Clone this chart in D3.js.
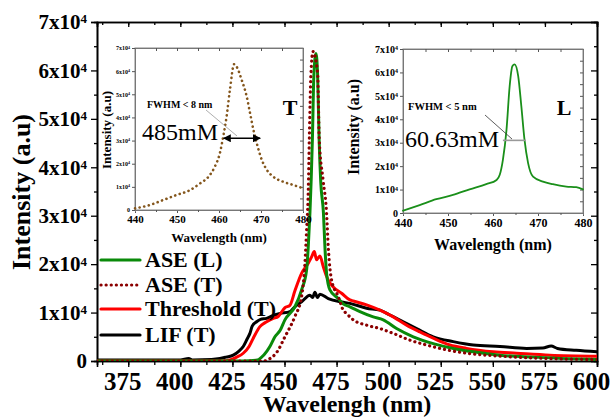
<!DOCTYPE html>
<html>
<head>
<meta charset="utf-8">
<script src="https://cdn.jsdelivr.net/npm/d3@7"></script>
<style>
  body { margin: 0; background: #fff; }
  svg, svg text { font-family: "Liberation Serif", "DejaVu Serif", serif; }
</style>
</head>
<body>
<div id="chart"></div>
<script>
// main spectra, wavelength (nm) vs intensity (x10^4)
var aseLWl  = [360, 400, 430, 437, 440, 443, 445.4, 448, 450.2, 455, 458.2, 460.6, 461.4, 462.2, 462.8, 463.4, 464.1, 465.1, 465.9, 466.6, 467.4, 468.7, 469.4, 470.2, 471.8, 475.8, 478.2, 481.4, 486.2, 492.6, 497.4, 503.8, 511.8, 521.4, 531, 540.6, 553.4, 569.4, 600];
var aseLVal = [0, 0, 0, 0.02, 0.12, 0.3, 0.5, 0.64, 0.85, 1.12, 1.47, 1.88, 2.36, 3.05, 3.74, 4.6, 5.9, 6.35, 5.9, 4.6, 3.7, 3.05, 2.36, 1.81, 1.47, 1.29, 1.18, 1.12, 1.02, 0.91, 0.85, 0.67, 0.5, 0.36, 0.26, 0.19, 0.12, 0.08, 0.03];

var aseTWl  = [360, 400, 440, 443, 446.3, 450.2, 455, 458.2, 459.8, 460.6, 461.4, 461.9, 462.7, 463.7, 465.9, 466.7, 468.5, 470.2, 471, 472.6, 475.8, 478.2, 479.8, 483, 489.4, 495.8, 502.2, 510.2, 518.2, 527.8, 537.4, 553.4, 577.4, 600];
var aseTVal = [0, 0, 0, 0.05, 0.18, 0.5, 0.92, 1.33, 2.02, 2.7, 3.5, 4.56, 5.94, 6.39, 5.94, 4.56, 3.74, 3.05, 2.36, 1.67, 1.33, 1.05, 0.98, 0.85, 0.74, 0.67, 0.57, 0.43, 0.33, 0.23, 0.16, 0.1, 0.05, 0.03];

var thrWl  = [360, 400, 420, 423.8, 427, 430.2, 433, 435, 438.2, 441, 444.6, 447, 450.2, 452.6, 455, 458.2, 461.4, 463, 464.3, 465.4, 467, 468.6, 470.2, 471, 473.4, 477.4, 481.4, 483, 489.4, 495.8, 502.2, 508.6, 515, 521.4, 529.4, 537.4, 550.2, 561.4, 577.4, 600];
var thrVal = [0, 0, 0, 0.02, 0.08, 0.16, 0.3, 0.47, 0.71, 0.8, 0.88, 0.92, 1.1, 1.15, 1.45, 1.81, 2.02, 2.15, 2.26, 2.09, 2.17, 1.95, 1.75, 1.67, 1.53, 1.4, 1.26, 1.24, 1.16, 1.05, 0.91, 0.74, 0.6, 0.47, 0.33, 0.26, 0.19, 0.16, 0.12, 0.1];

var lifWl  = [360, 380, 400, 404, 406, 415, 419, 422, 425.4, 428, 430.2, 432, 433.4, 434.5, 436.6, 438.5, 441.4, 444, 447.8, 452.6, 455, 458.2, 462.2, 463.5, 464.6, 465.8, 467, 471, 477.4, 481.4, 489.4, 495.8, 500.6, 507, 513.4, 521.4, 531, 540.6, 553.4, 566.2, 574, 578, 581, 590, 600];
var lifVal = [0.02, 0.02, 0.02, 0.05, 0.02, 0.03, 0.05, 0.08, 0.12, 0.2, 0.3, 0.45, 0.57, 0.72, 0.81, 0.86, 0.88, 0.93, 0.98, 1.02, 1.12, 1.22, 1.36, 1.31, 1.42, 1.31, 1.38, 1.29, 1.22, 1.19, 1.09, 1.05, 0.95, 0.81, 0.67, 0.5, 0.4, 0.33, 0.3, 0.26, 0.27, 0.31, 0.26, 0.22, 0.19];

// insets
var insTWl  = [440, 443.6, 446.7, 449.9, 453.1, 455.5, 457.5, 459, 460.2, 461, 461.8, 462.6, 463.6, 464.2, 465.4, 466.6, 467.4, 468.2, 469, 470.2, 471.4, 472.9, 475.3, 477.7, 480];
var insTVal = [0.07, 0.22, 0.43, 0.65, 0.86, 1.15, 1.44, 1.87, 2.45, 3.17, 4.03, 5.19, 6.3, 6.19, 5.62, 4.9, 4.18, 3.46, 2.88, 2.16, 1.73, 1.44, 1.22, 1.08, 0.94];

var insLWl  = [440, 443.7, 447.4, 451.1, 454.8, 458.5, 460.8, 461.5, 462.2, 463, 463.7, 464.3, 464.8, 465.6, 466.3, 467, 467.8, 468.9, 471.1, 473.3, 476.3, 478.5, 480];
var insLVal = [0.1, 0.34, 0.59, 0.77, 1.01, 1.23, 1.41, 1.63, 2.27, 3.55, 5.41, 6.26, 6.34, 5.84, 4.55, 3.13, 2.13, 1.55, 1.34, 1.23, 1.13, 1.1, 1.01];

var xTicks = [375, 400, 425, 450, 475, 500, 525, 550, 575, 600];
var yTicks = [0, 1, 2, 3, 4, 5, 6, 7];
var insXTicks = [440, 450, 460, 470, 480];

var legendNames = ["ASE (L)", "ASE (T)", "Threshold (T)", "LIF (T)"];

var W = 613, H = 417;
var FONT = "'Liberation Serif', 'DejaVu Serif', serif";
var svg = d3.select("#chart").append("svg").attr("width", W).attr("height", H);

var x = d3.scaleLinear().domain([360, 600]).range([97, 597]);
var y = d3.scaleLinear().domain([0, 7]).range([361, 22]);

function sciLabel(sel, v, supSize) {
    sel.text(null);
    if (v === 0) { sel.text("0"); return; }
    sel.append("tspan").text(v + "x10");
    sel.append("tspan").attr("dy", "-0.45em").style("font-size", supSize).text("4");
}

function zip(a, b) { return a.map(function (d, i) { return [d, b[i]]; }); }

// ---- main axes
var g = svg.append("g");
var minorX = d3.range(362.5, 600, 12.5);
var minorY = d3.range(0.5, 7, 1);

g.append("g").attr("transform", "translate(0,361)")
    .call(d3.axisBottom(x).tickValues(minorX).tickSize(4).tickFormat(""));
var xa = g.append("g").attr("transform", "translate(0,361)")
    .call(d3.axisBottom(x).tickValues(xTicks).tickSize(6).tickPadding(5));
xa.selectAll("text").attr("dx", -6).style("font-size", "25px").style("font-weight", "bold");

g.append("g").attr("transform", "translate(0,22)")
    .call(d3.axisTop(x).tickValues(xTicks).tickSize(-5).tickFormat(""));
g.append("g").attr("transform", "translate(0,22)")
    .call(d3.axisTop(x).tickValues(minorX).tickSize(-3).tickFormat(""));

g.append("g").attr("transform", "translate(97,0)")
    .call(d3.axisLeft(y).tickValues(minorY).tickSize(3).tickFormat(""));
var ya = g.append("g").attr("transform", "translate(97,0)")
    .call(d3.axisLeft(y).tickValues(yTicks).tickSize(6).tickPadding(4));
ya.selectAll("text").style("font-size", "21px").style("font-weight", "bold")
    .each(function (d) { sciLabel(d3.select(this), d, "13px"); });

g.append("g").attr("transform", "translate(597,0)")
    .call(d3.axisRight(y).tickValues(yTicks).tickSize(-6).tickFormat(""));
g.append("g").attr("transform", "translate(597,0)")
    .call(d3.axisRight(y).tickValues(minorY).tickSize(-3).tickFormat(""));

g.selectAll(".domain").attr("stroke-width", 1.6);
g.selectAll(".tick line").attr("stroke-width", 1.3);
g.selectAll("g").attr("font-family", null);
g.selectAll("text").style("font-family", FONT);

svg.append("text").attr("x", 347).attr("y", 412).attr("text-anchor", "middle")
    .style("font-size", "24px").style("font-weight", "bold").text("Wavelengh (nm)");
svg.append("text").attr("transform", "translate(30,192) rotate(-90)").attr("text-anchor", "middle")
    .style("font-size", "26px").style("font-weight", "bold").text("Intensity (a.u)");

// ---- main curves
svg.append("clipPath").attr("id", "clipMain").append("rect")
    .attr("x", 97).attr("y", 22).attr("width", 500).attr("height", 339);

var line = d3.line().x(function (d) { return x(d[0]); }).y(function (d) { return y(d[1]); })
    .curve(d3.curveMonotoneX);

var series = [
    { data: zip(lifWl, lifVal), color: "#000000", dash: null },
    { data: zip(thrWl, thrVal), color: "#ff0000", dash: null },
    { data: zip(aseLWl, aseLVal), color: "#0a8a0a", dash: null },
    { data: zip(aseTWl, aseTVal), color: "#8b0000", dash: "0.1,5" }
];
var lines = svg.append("g").attr("clip-path", "url(#clipMain)");
series.forEach(function (s) {
    lines.append("path").attr("d", line(s.data)).attr("fill", "none")
        .attr("stroke", s.color).attr("stroke-width", s.dash ? 3.2 : 3)
        .attr("stroke-linecap", "round").attr("stroke-linejoin", "round")
        .attr("stroke-dasharray", s.dash);
});

// ---- legend
var legColors = ["#0a8a0a", "#8b0000", "#ff0000", "#000000"];
var legY = [260, 285, 309, 335];
legendNames.forEach(function (n, i) {
    svg.append("line").attr("x1", 101).attr("x2", 140).attr("y1", legY[i]).attr("y2", legY[i])
        .attr("stroke", legColors[i]).attr("stroke-width", 3.2).attr("stroke-linecap", "round")
        .attr("stroke-dasharray", i === 1 ? "0.1,5" : null);
    svg.append("text").attr("x", 145).attr("y", legY[i] + 7)
        .style("font-size", "22px").style("font-weight", "bold").text(n);
});

// ---- inset builder
function inset(o) {
    var ix = d3.scaleLinear().domain([440, 480]).range([o.x0, o.x1]);
    var iy = d3.scaleLinear().domain([0, 7]).range([o.y1, o.y0]);
    var ig = svg.append("g");
    ig.append("rect").attr("x", o.x0).attr("y", o.y0).attr("width", o.x1 - o.x0).attr("height", o.y1 - o.y0)
        .attr("fill", "#fff").attr("stroke", "#888").attr("stroke-width", 1);

    var ax = ig.append("g").attr("transform", "translate(0," + o.y1 + ")")
        .call(d3.axisBottom(ix).tickValues(insXTicks).tickSize(3).tickPadding(2));
    ax.selectAll("text").style("font-size", o.xfs).style("font-weight", "bold");
    ig.append("g").attr("transform", "translate(0," + o.y1 + ")")
        .call(d3.axisBottom(ix).tickValues(d3.range(445, 480, 10)).tickSize(2).tickFormat(""));
    ig.append("g").attr("transform", "translate(0," + o.y0 + ")")
        .call(d3.axisTop(ix).tickValues(d3.range(440, 481, 5)).tickSize(-3).tickFormat(""));
    var ay = ig.append("g").attr("transform", "translate(" + o.x0 + ",0)")
        .call(d3.axisLeft(iy).tickValues(yTicks).tickSize(3).tickPadding(2));
    ay.selectAll("text").style("font-size", o.yfs).style("font-weight", "bold")
        .each(function (d) { sciLabel(d3.select(this), d, o.ysup); });
    ig.append("g").attr("transform", "translate(" + o.x1 + ",0)")
        .call(d3.axisRight(iy).tickValues(d3.range(0.5, 7, 0.5)).tickSize(-3).tickFormat(""));
    ig.selectAll(".domain").attr("stroke", "#777");
    ig.selectAll(".tick line").attr("stroke", "#555");
    ig.selectAll("g").attr("font-family", null);
    ig.selectAll("text").style("font-family", FONT);

    ig.append("text").attr("x", (o.x0 + o.x1) / 2).attr("y", o.titleY).attr("text-anchor", "middle")
        .style("font-size", o.tfs).style("font-weight", "bold").text("Wavelength (nm)");
    ig.append("text").attr("transform", "translate(" + o.ytX + "," + o.ytY + ") rotate(-90)")
        .attr("text-anchor", "middle").style("font-size", o.tfs).style("font-weight", "bold")
        .text("Intensity (a.u)");

    var il = d3.line().x(function (d) { return ix(d[0]); }).y(function (d) { return iy(d[1]); })
        .curve(d3.curveMonotoneX);
    ig.append("path").attr("d", il(o.data)).attr("fill", "none").attr("stroke", o.color)
        .attr("stroke-width", o.sw).attr("stroke-linecap", "round").attr("stroke-dasharray", o.dash);
    return { g: ig, x: ix, y: iy };
}

var tIn = inset({ x0: 135, x1: 303, y0: 48, y1: 210, data: zip(insTWl, insTVal), color: "#84561c",
    sw: 2.6, dash: "0.1,4.6", xfs: "11px", yfs: "6px", ysup: "4px", tfs: "13px",
    titleY: 242, ytX: 111, ytY: 130 });
var lIn = inset({ x0: 403, x1: 583, y0: 49, y1: 213, data: zip(insLWl, insLVal), color: "#1a8f1a",
    sw: 1.8, dash: null, xfs: "12px", yfs: "10px", ysup: "6px", tfs: "16px",
    titleY: 250, ytX: 359, ytY: 127 });

// arrows / annotations
svg.append("defs").html(
    '<marker id="ah" viewBox="0 0 10 10" refX="9" refY="5" markerWidth="5" markerHeight="5" orient="auto-start-reverse">' +
    '<path d="M0,0L10,5L0,10z" fill="#000"/></marker>');

svg.append("line").attr("x1", tIn.x(461.1)).attr("x2", tIn.x(469.8))
    .attr("y1", tIn.y(3.1)).attr("y2", tIn.y(3.1)).attr("stroke", "#000").attr("stroke-width", 1.6)
    .attr("marker-start", "url(#ah)").attr("marker-end", "url(#ah)");
svg.append("line").attr("x1", 206).attr("y1", 110).attr("x2", 237).attr("y2", 136)
    .attr("stroke", "#999").attr("stroke-width", 0.8);
svg.append("text").attr("x", 147).attr("y", 108).style("font-size", "10px").style("font-weight", "bold")
    .text("FWHM < 8 nm");
svg.append("text").attr("x", 142).attr("y", 140).style("font-size", "24px").text("485mM");
svg.append("text").attr("x", 290).attr("y", 115).attr("text-anchor", "middle")
    .style("font-size", "22px").style("font-weight", "bold").text("T");

svg.append("line").attr("x1", lIn.x(462.2)).attr("x2", lIn.x(467.3))
    .attr("y1", lIn.y(3.1)).attr("y2", lIn.y(3.1)).attr("stroke", "#999").attr("stroke-width", 1.6);
svg.append("line").attr("x1", 485).attr("y1", 115).attr("x2", 512).attr("y2", 139)
    .attr("stroke", "#333").attr("stroke-width", 0.8);
svg.append("text").attr("x", 408).attr("y", 110).style("font-size", "10.5px").style("font-weight", "bold")
    .text("FWHM < 5 nm");
svg.append("text").attr("x", 405).attr("y", 147).style("font-size", "24px").text("60.63mM");
svg.append("text").attr("x", 564).attr("y", 115).attr("text-anchor", "middle")
    .style("font-size", "22px").style("font-weight", "bold").text("L");
</script>
</body>
</html>
